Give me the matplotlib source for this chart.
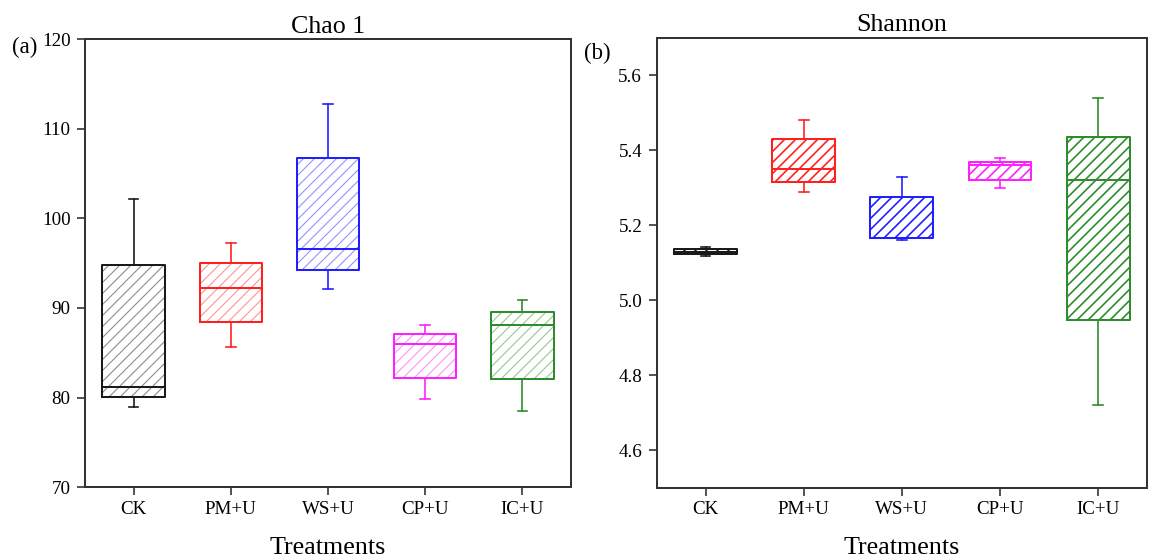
import matplotlib
matplotlib.use("Agg")
import matplotlib.pyplot as plt
from matplotlib.ticker import FormatStrFormatter

# ---------------- data ----------------
treatments = ["CK", "PM+U", "WS+U", "CP+U", "IC+U"]
colors = ["#1a1a1a", "#ff2020", "#2020ff", "#ff20ff", "#2e8b2e"]
light_colors = ["#8c8c8c", "#ff9090", "#9090ff", "#ff90ff", "#90c890"]

# Chao 1: lower whisker, Q1, median, Q3, upper whisker
chao_whislo = [79.0, 85.7, 92.1, 79.8, 78.5]
chao_q1 = [80.1, 88.4, 94.25, 82.2, 82.1]
chao_med = [81.2, 92.2, 96.6, 86.0, 88.15]
chao_q3 = [94.8, 95.0, 106.7, 87.15, 89.6]
chao_whishi = [102.2, 97.2, 112.7, 88.15, 90.9]

# Shannon
shan_whislo = [5.118, 5.289, 5.160, 5.300, 4.720]
shan_q1 = [5.123, 5.316, 5.165, 5.321, 4.948]
shan_med = [5.129, 5.350, 5.167, 5.360, 5.320]
shan_q3 = [5.136, 5.430, 5.275, 5.369, 5.437]
shan_whishi = [5.142, 5.480, 5.329, 5.380, 5.539]

chao_yticks = [70, 80, 90, 100, 110, 120]
shan_yticks = [4.6, 4.8, 5.0, 5.2, 5.4, 5.6]

# ---------------- style ----------------
DPI = 132
plt.rcParams["font.family"] = ["Liberation Serif", "DejaVu Serif"]
plt.rcParams["hatch.linewidth"] = 0.6

fig = plt.figure(figsize=(1151 / DPI, 559 / DPI), dpi=DPI)
fig.patch.set_facecolor("white")

ax1 = fig.add_axes([85 / 1151, 1 - 487.3 / 559, (571 - 85) / 1151, (487.3 - 39) / 559])
ax2 = fig.add_axes([656.5 / 1151, 1 - 487.7 / 559, (1147.3 - 656.5) / 1151, (487.7 - 38) / 559])

spine_col = "#333333"
TICK_FS = 10.4
TITLE_FS = 14.2


def draw_panel(ax, whislo, q1, med, q3, whishi, hatch_cols, hatch_lw):
    for i in range(len(treatments)):
        stat = dict(whislo=whislo[i], q1=q1[i], med=med[i], q3=q3[i],
                    whishi=whishi[i], fliers=[], label=treatments[i])
        # hatched fill layer
        res = ax.bxp([stat], positions=[i + 1], widths=0.64, capwidths=0.1,
                     patch_artist=True, showcaps=False,
                     boxprops=dict(facecolor="none", edgecolor=hatch_cols[i],
                                   hatch="////", linewidth=0.0),
                     whiskerprops=dict(linewidth=0),
                     medianprops=dict(linewidth=0),
                     manage_ticks=False)
        for b in res["boxes"]:
            if hasattr(b, "set_hatch_linewidth"):
                b.set_hatch_linewidth(hatch_lw)
        # outline layer
        ax.bxp([stat], positions=[i + 1], widths=0.64, capwidths=0.1,
               patch_artist=False,
               boxprops=dict(color=colors[i], linewidth=1.1),
               whiskerprops=dict(color=colors[i], linewidth=0.9),
               capprops=dict(color=colors[i], linewidth=0.9),
               medianprops=dict(color=colors[i], linewidth=1.1),
               manage_ticks=False)
    ax.set_xlim(0.5, 5.5)
    ax.set_xticks(range(1, len(treatments) + 1))
    ax.set_xticklabels(treatments)
    for s in ax.spines.values():
        s.set_color(spine_col)
        s.set_linewidth(1.1)
    ax.tick_params(axis="both", direction="out", length=4.6, width=0.9,
                   color=spine_col, labelsize=TICK_FS, labelcolor="black")
    ax.tick_params(axis="y", pad=3.2)
    ax.tick_params(axis="x", pad=2.6)
    ax.set_xlabel("Treatments", fontsize=TITLE_FS)
    ax.xaxis.set_label_coords(0.5, -0.110)


draw_panel(ax1, chao_whislo, chao_q1, chao_med, chao_q3, chao_whishi, light_colors, 0.6)
ax1.set_ylim(70, 120)
ax1.set_yticks(chao_yticks)
ax1.set_title("Chao 1", fontsize=TITLE_FS, pad=3.5)

draw_panel(ax2, shan_whislo, shan_q1, shan_med, shan_q3, shan_whishi, colors, 0.9)
ax2.set_ylim(4.5, 5.7)
ax2.set_yticks(shan_yticks)
ax2.yaxis.set_major_formatter(FormatStrFormatter("%.1f"))
ax2.set_title("Shannon", fontsize=TITLE_FS, pad=4.0)

fig.text(12 / 1151, 1 - 37 / 559, "(a)", fontsize=12.5, ha="left", va="top")
fig.text(584 / 1151, 1 - 43 / 559, "(b)", fontsize=12.5, ha="left", va="top")

fig.savefig("out.png", dpi=DPI, facecolor="white")
